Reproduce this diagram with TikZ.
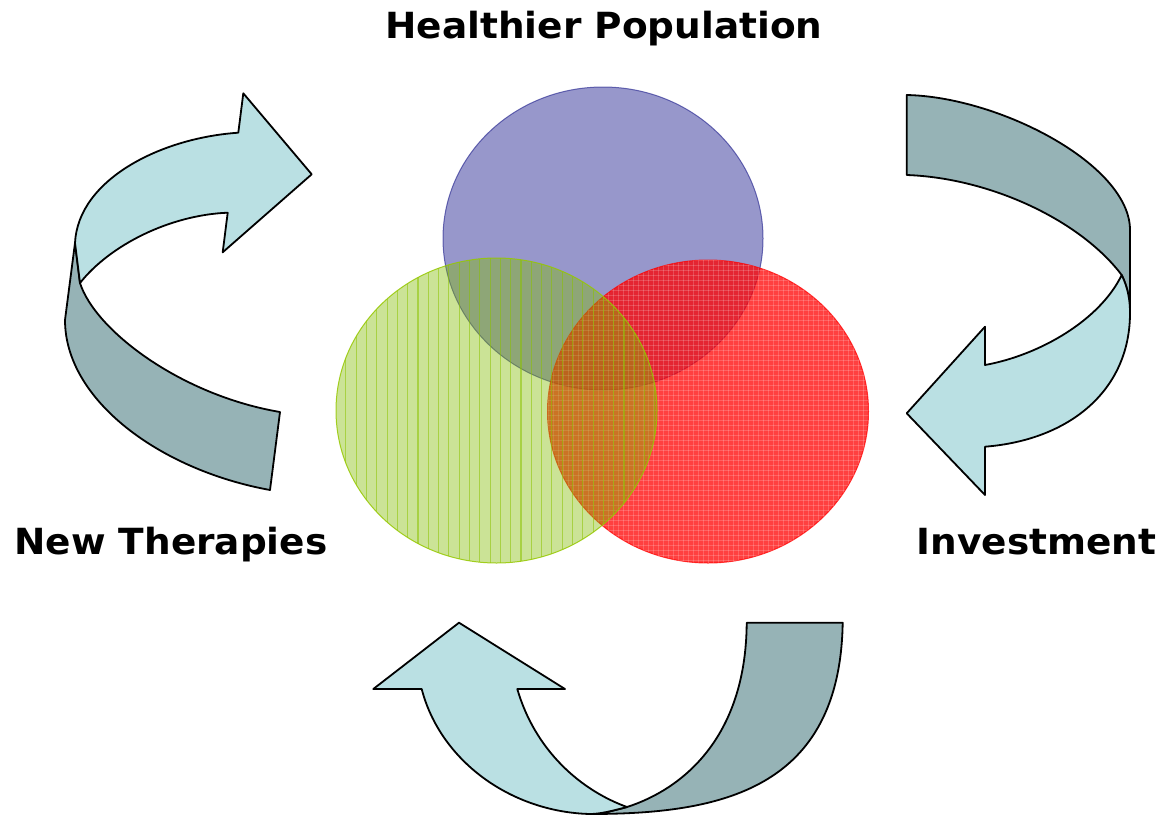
\documentclass[tikz,border=0pt]{standalone}
\usepackage{fontspec}
\setmainfont{DejaVu Sans}
\newfontfamily\lblfont[FakeStretch=1.04]{DejaVu Sans Bold}
\definecolor{arrowlight}{RGB}{186,224,227}
\definecolor{arrowdark}{RGB}{150,179,182}
\definecolor{bluefill}{RGB}{108,108,182}
\definecolor{blueline}{RGB}{50,50,150}
\definecolor{greenfill}{RGB}{130,189,0}
\definecolor{greenline}{RGB}{150,200,0}
\definecolor{stripe}{RGB}{140,195,0}
\begin{document}
\begin{tikzpicture}[x=1pt,y=-1pt,
  lbl/.style={font=\lblfont\fontsize{36}{42}\selectfont, inner sep=0pt, anchor=base},
  lightpart/.style={fill=arrowlight, draw=black, line width=1.8pt, line join=round},
  darkpart/.style={fill=arrowdark, draw=black, line width=1.8pt, line join=round},
  bluecirc/.style={fill=bluefill, draw=blueline, line width=1pt, opacity=0.7},
  redcirc/.style={fill=red, draw=red, line width=1pt, opacity=0.75},
  greencirc/.style={fill=greenfill, opacity=0.41},
  greenrim/.style={draw=greenline, line width=1pt, opacity=0.85},
  stripeline/.style={draw=stripe, line width=1.1pt, opacity=0.55},
  gridline/.style={draw=white, line width=0.8pt, opacity=0.18}]
\useasboundingbox (0,0) rectangle (1173,822);
\fill[white] (0,0) rectangle (1173,822);

% circles
\path[bluecirc] (603,238.5) ellipse [x radius=160pt, y radius=151.5pt];
\path[redcirc] (708,411.5) ellipse [x radius=160.5pt, y radius=151.5pt];
\begin{scope}
  \clip (708,411.5) ellipse [x radius=160.5pt, y radius=151.5pt];
  \foreach \i in {0,...,65} {
    \draw[gridline] (548+\i*5,255) -- (548+\i*5,570);
  }
  \foreach \i in {0,...,62} {
    \draw[gridline] (540,260+\i*5) -- (875,260+\i*5);
  }
\end{scope}
\path[greencirc] (496.5,410.5) ellipse [x radius=160.5pt, y radius=152.5pt];
\begin{scope}
  \clip (496.5,410.5) ellipse [x radius=160.5pt, y radius=152.5pt];
  \foreach \i in {-10,...,22} {
    \draw[stripeline] (428.3+\i*10.3,250) -- (428.3+\i*10.3,570);
  }
\end{scope}
\path[greenrim] (496.5,410.5) ellipse [x radius=160.5pt, y radius=152.5pt];

% left arrow (New Therapies -> Healthier Population)
\path[darkpart] (75,243) -- (65,320)
  .. controls (65,400) and (160,470) .. (270,490)
  -- (280,412)
  .. controls (180,395) and (95,330) .. (80,283) -- cycle;
\path[lightpart] (75,243)
  .. controls (78,180) and (160,138) .. (238.3,132.7)
  -- (243.3,93.3) -- (311.7,174.3) -- (222.7,252.3) -- (227.7,212.7)
  .. controls (170,215) and (110,245) .. (80,283) -- cycle;

% right arrow (Healthier Population -> Investment)
\path[darkpart] (906.7,95)
  .. controls (1000,97) and (1130,165) .. (1130,230)
  -- (1130,313)
  .. controls (1130,300) and (1128,288) .. (1121.7,275)
  .. controls (1080,220) and (990,178) .. (906.7,175) -- cycle;
\path[lightpart] (1121.7,275)
  .. controls (1100,320) and (1040,355) .. (985,365)
  -- (985,326.7) -- (906.7,413.3) -- (985,495) -- (985,446.7)
  .. controls (1070,440) and (1130,390) .. (1130,313)
  .. controls (1130,300) and (1128,288) .. (1121.7,275) -- cycle;

% bottom arrow (Investment -> New Therapies)
\path[darkpart] (746.7,622.7) -- (842.7,622.7)
  .. controls (840,790) and (720,814) .. (590,814)
  .. controls (600,814) and (612,811) .. (627,807)
  .. controls (680,790) and (746,740) .. (746.7,622.7) -- cycle;
\path[lightpart] (421.7,689) -- (373.3,689) -- (459,622.7) -- (565,689) -- (517.3,689)
  .. controls (535,750) and (580,790) .. (627,807)
  .. controls (612,811) and (600,814) .. (590,814)
  .. controls (510,812) and (440,760) .. (421.7,689) -- cycle;

% labels
\node[lbl] (hp) at (604,38) {Healthier Population};
\node[lbl] (nt) at (171,554) {New Therapies};
\node[lbl] (inv) at (1036.5,554) {Investment};
\end{tikzpicture}
\end{document}
